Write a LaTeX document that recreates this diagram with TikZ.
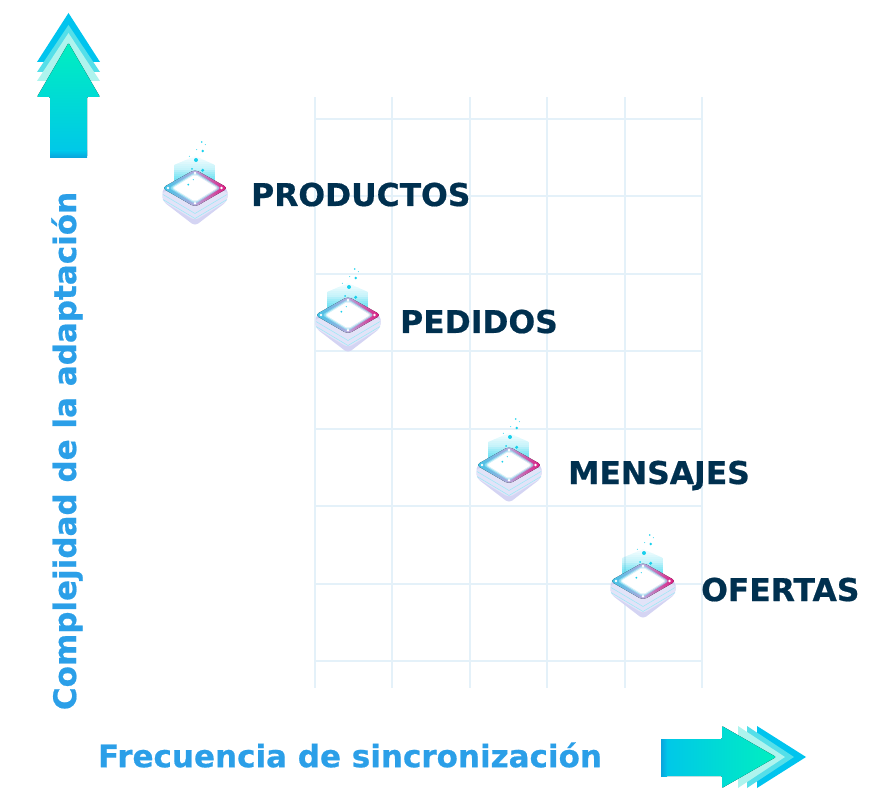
\documentclass[tikz,border=0pt]{standalone}
\usepackage{fontspec}
\setmainfont[BoldFeatures={FakeBold=0.6}]{DejaVu Sans}
\definecolor{gridc}{HTML}{E4F1F9}
\definecolor{navy}{HTML}{00304F}
\definecolor{axisblue}{HTML}{2B9FE8}
\definecolor{arrA}{HTML}{00C4EE}
\definecolor{arrB}{HTML}{55DFE9}
\definecolor{arrC}{HTML}{AEF4EE}
\definecolor{arrTip}{HTML}{00EFC0}
\definecolor{arrEnd}{HTML}{00C6EA}
\definecolor{arrDark}{HTML}{0AA4DC}
\definecolor{lav}{HTML}{E2E3F8}
\definecolor{lavd}{HTML}{D4D4F3}
\definecolor{spark}{HTML}{18D0EC}
\definecolor{edgeL}{HTML}{38C6E8}
\definecolor{edgeM}{HTML}{B4A8DC}
\definecolor{edgeR}{HTML}{E0107A}
\tikzset{
  x=1pt,y=-1pt,
  gridline/.style={draw=gridc,line width=1.2pt},
  itemlabel/.style={font=\bfseries\fontsize{31.4}{36}\selectfont,text=navy,anchor=base west,inner sep=0pt},
  axislabel/.style={font=\bfseries\fontsize{31}{36}\selectfont,text=axisblue,inner sep=0pt},
  sparkdot/.style={fill=spark,draw=none},
  icon/.pic={
    % glow, built from stacked translucent bands
    \begin{scope}
      \clip (-21,-23) -- (0,-32) -- (20,-23) -- (20,0) -- (-21,0) -- cycle;
      \foreach \gl in {-32,-30,...,-2}
        \fill[spark,fill opacity=.04] (-21,\gl) rectangle (20,0);
      \foreach \gl in {-18,-16,...,-2}
        \fill[spark,fill opacity=.08] (-21,\gl) rectangle (20,0);
    \end{scope}
    % lower body
    \fill[lavd,rounded corners=4pt] (-32.5,0) -- (-32.5,13) -- (0,38) -- (32.5,13) -- (32.5,0) -- cycle;
    \fill[lav,rounded corners=4pt] (-32.5,13) -- (0,32.5) -- (32.5,13) -- (32.5,3) -- (-32.5,3) -- cycle;
    \draw[spark!45,line width=.5pt] (-32,6.5) -- (0,25.5) -- (32,6.5);
    \draw[spark!45,line width=.5pt] (-32,11.5) -- (0,30.5) -- (32,11.5);
    % top plate
    \fill[left color=edgeL,right color=edgeR,middle color=edgeM,rounded corners=4pt]
      (-33,0) -- (0,-18.5) -- (33,0) -- (0,19) -- cycle;
    \fill[spark!45,fill opacity=.7,rounded corners=3pt] (-26,0) -- (0,-16) -- (26,0) -- (0,16) -- cycle;
    \fill[white,fill opacity=.6,rounded corners=3pt] (-24,0) -- (0,-14.8) -- (24,0) -- (0,14.8) -- cycle;
    \fill[white,rounded corners=2pt]
      (-22,0) -- (0,-13.5) -- (22,0) -- (0,13.5) -- cycle;
    % corner dots
    \fill[white] (-27,0) circle (1.4) (26.5,0) circle (1.4) (0,15.3) circle (1.4) (0,-15) circle (1.4);
    % sparkles
    \fill[sparkdot] (6.7,-46) circle (.9) (10.3,-43.3) circle (.5) (7.7,-37) circle (1.4)
      (1,-28) circle (2) (-5.7,-31.7) circle (.5) (1.7,-38.3) circle (.5)
      (-3,-19) circle (1) (7.7,-17.7) circle (1.7) (-6.7,-3.3) circle (1) (-1.7,-8.3) circle (.6);
  }
}
\begin{document}
\begin{tikzpicture}
\useasboundingbox (0,0) rectangle (879,810);
% grid
\foreach \gx in {315,392,470,547,625,702}
  \draw[gridline] (\gx,97) -- (\gx,688);
\foreach \gy in {119,196,274,351,429,506,584,661}
  \draw[gridline] (315,\gy) -- (702,\gy);
% up arrow
\fill[arrA] (68.5,13) -- (100,62) -- (37,62) -- cycle;
\fill[arrB] (68.5,25) -- (100,72) -- (37,72) -- cycle;
\fill[arrC] (68.5,33) -- (100,81) -- (37,81) -- cycle;
\fill[top color=arrTip,bottom color=arrEnd,rounded corners=1pt]
  (68.5,43) -- (100,97) -- (87,97) -- (87,157) -- (50,157) -- (50,97) -- (37,97) -- cycle;
\fill[top color=arrEnd,bottom color=arrDark] (50,151) rectangle (87,157.5);
% right arrow
\fill[arrA] (757,726) -- (806,757) -- (757,788) -- cycle;
\fill[arrB] (747,726) -- (794,757) -- (747,788) -- cycle;
\fill[arrC] (738,726) -- (785,757) -- (738,788) -- cycle;
\fill[left color=arrEnd,right color=arrTip,rounded corners=1pt]
  (661,739) -- (722,739) -- (722,726) -- (776,757) -- (722,788) -- (722,776) -- (661,776) -- cycle;
\fill[left color=arrDark,right color=arrEnd] (661,739) rectangle (667,776);
% icons
\pic at (195,188) {icon};
\pic at (348,315) {icon};
\pic at (509,465) {icon};
\pic at (643,581) {icon};
% labels
\node[itemlabel] (productos) at (251,206) {PRODUCTOS};
\node[itemlabel] (pedidos) at (400,333) {PEDIDOS};
\node[itemlabel] (mensajes) at (568,484) {MENSAJES};
\node[itemlabel] (ofertas) at (701,601) {OFERTAS};
\node[axislabel,rotate=90] (yaxis) at (67,451) {Complejidad de la adaptación};
\node[axislabel] (xaxis) at (350,755) {Frecuencia de sincronización};
\end{tikzpicture}
\end{document}
